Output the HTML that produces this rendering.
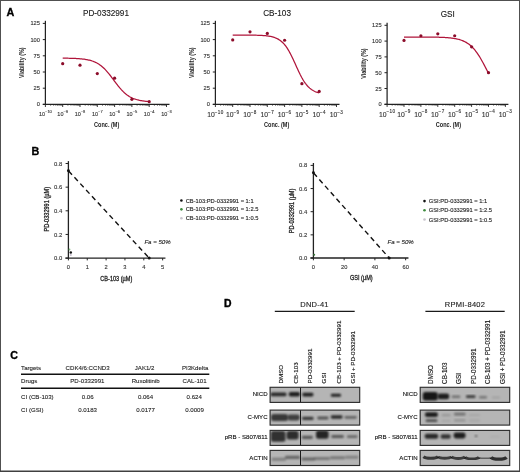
<!DOCTYPE html>
<html><head><meta charset="utf-8"><style>
html,body{margin:0;padding:0;background:#fff;}
svg{display:block;will-change:transform;}
text{font-family:"Liberation Sans", sans-serif;}
</style></head><body>
<svg width="520" height="472" viewBox="0 0 520 472">
<defs><filter id="bl" x="-50%" y="-50%" width="200%" height="200%"><feGaussianBlur stdDeviation="0.95"/></filter><filter id="bl2" x="-50%" y="-50%" width="200%" height="200%"><feGaussianBlur stdDeviation="0.5"/></filter></defs>
<rect x="0" y="0" width="520" height="472" fill="#fff"/>
<text x="106.00" y="15.80" font-size="8.2" text-anchor="middle" fill="#1a1a1a" font-weight="normal" font-style="normal" stroke="#1a1a1a" stroke-width="0.12" >PD-0332991</text>
<line x1="45.40" y1="20.80" x2="45.40" y2="104.90" stroke="#222" stroke-width="1.25" />
<line x1="42.80" y1="104.40" x2="45.40" y2="104.40" stroke="#222" stroke-width="1.0" />
<text x="39.90" y="106.40" font-size="5.7" text-anchor="end" fill="#333" font-weight="normal" font-style="normal" stroke="#333" stroke-width="0.12" >0</text>
<line x1="42.80" y1="88.20" x2="45.40" y2="88.20" stroke="#222" stroke-width="1.0" />
<text x="39.90" y="90.20" font-size="5.7" text-anchor="end" fill="#333" font-weight="normal" font-style="normal" stroke="#333" stroke-width="0.12" >25</text>
<line x1="42.80" y1="72.00" x2="45.40" y2="72.00" stroke="#222" stroke-width="1.0" />
<text x="39.90" y="74.00" font-size="5.7" text-anchor="end" fill="#333" font-weight="normal" font-style="normal" stroke="#333" stroke-width="0.12" >50</text>
<line x1="42.80" y1="55.80" x2="45.40" y2="55.80" stroke="#222" stroke-width="1.0" />
<text x="39.90" y="57.80" font-size="5.7" text-anchor="end" fill="#333" font-weight="normal" font-style="normal" stroke="#333" stroke-width="0.12" >75</text>
<line x1="42.80" y1="39.60" x2="45.40" y2="39.60" stroke="#222" stroke-width="1.0" />
<text x="39.90" y="41.60" font-size="5.7" text-anchor="end" fill="#333" font-weight="normal" font-style="normal" stroke="#333" stroke-width="0.12" >100</text>
<line x1="42.80" y1="23.40" x2="45.40" y2="23.40" stroke="#222" stroke-width="1.0" />
<text x="39.90" y="25.40" font-size="5.7" text-anchor="end" fill="#333" font-weight="normal" font-style="normal" stroke="#333" stroke-width="0.12" >125</text>
<line x1="42.80" y1="104.40" x2="169.50" y2="104.40" stroke="#222" stroke-width="1.25" />
<line x1="45.40" y1="104.40" x2="45.40" y2="107.00" stroke="#222" stroke-width="0.9" />
<line x1="50.61" y1="104.40" x2="50.61" y2="105.80" stroke="#222" stroke-width="0.6" />
<line x1="53.65" y1="104.40" x2="53.65" y2="105.80" stroke="#222" stroke-width="0.6" />
<line x1="55.82" y1="104.40" x2="55.82" y2="105.80" stroke="#222" stroke-width="0.6" />
<line x1="57.49" y1="104.40" x2="57.49" y2="105.80" stroke="#222" stroke-width="0.6" />
<line x1="58.86" y1="104.40" x2="58.86" y2="105.80" stroke="#222" stroke-width="0.6" />
<line x1="60.02" y1="104.40" x2="60.02" y2="105.80" stroke="#222" stroke-width="0.6" />
<line x1="61.02" y1="104.40" x2="61.02" y2="105.80" stroke="#222" stroke-width="0.6" />
<line x1="61.91" y1="104.40" x2="61.91" y2="105.80" stroke="#222" stroke-width="0.6" />
<text x="45.40" y="116.00" font-size="5.5" text-anchor="middle" fill="#333" stroke="#333" stroke-width="0.12">10<tspan font-size="4.0" dy="-2.6" letter-spacing="0">&#8722;10</tspan></text>
<line x1="62.70" y1="104.40" x2="62.70" y2="107.00" stroke="#222" stroke-width="0.9" />
<line x1="67.91" y1="104.40" x2="67.91" y2="105.80" stroke="#222" stroke-width="0.6" />
<line x1="70.95" y1="104.40" x2="70.95" y2="105.80" stroke="#222" stroke-width="0.6" />
<line x1="73.12" y1="104.40" x2="73.12" y2="105.80" stroke="#222" stroke-width="0.6" />
<line x1="74.79" y1="104.40" x2="74.79" y2="105.80" stroke="#222" stroke-width="0.6" />
<line x1="76.16" y1="104.40" x2="76.16" y2="105.80" stroke="#222" stroke-width="0.6" />
<line x1="77.32" y1="104.40" x2="77.32" y2="105.80" stroke="#222" stroke-width="0.6" />
<line x1="78.32" y1="104.40" x2="78.32" y2="105.80" stroke="#222" stroke-width="0.6" />
<line x1="79.21" y1="104.40" x2="79.21" y2="105.80" stroke="#222" stroke-width="0.6" />
<text x="62.70" y="116.00" font-size="5.5" text-anchor="middle" fill="#333" stroke="#333" stroke-width="0.12">10<tspan font-size="4.0" dy="-2.6" letter-spacing="0">&#8722;9</tspan></text>
<line x1="80.00" y1="104.40" x2="80.00" y2="107.00" stroke="#222" stroke-width="0.9" />
<line x1="85.21" y1="104.40" x2="85.21" y2="105.80" stroke="#222" stroke-width="0.6" />
<line x1="88.25" y1="104.40" x2="88.25" y2="105.80" stroke="#222" stroke-width="0.6" />
<line x1="90.42" y1="104.40" x2="90.42" y2="105.80" stroke="#222" stroke-width="0.6" />
<line x1="92.09" y1="104.40" x2="92.09" y2="105.80" stroke="#222" stroke-width="0.6" />
<line x1="93.46" y1="104.40" x2="93.46" y2="105.80" stroke="#222" stroke-width="0.6" />
<line x1="94.62" y1="104.40" x2="94.62" y2="105.80" stroke="#222" stroke-width="0.6" />
<line x1="95.62" y1="104.40" x2="95.62" y2="105.80" stroke="#222" stroke-width="0.6" />
<line x1="96.51" y1="104.40" x2="96.51" y2="105.80" stroke="#222" stroke-width="0.6" />
<text x="80.00" y="116.00" font-size="5.5" text-anchor="middle" fill="#333" stroke="#333" stroke-width="0.12">10<tspan font-size="4.0" dy="-2.6" letter-spacing="0">&#8722;8</tspan></text>
<line x1="97.30" y1="104.40" x2="97.30" y2="107.00" stroke="#222" stroke-width="0.9" />
<line x1="102.51" y1="104.40" x2="102.51" y2="105.80" stroke="#222" stroke-width="0.6" />
<line x1="105.55" y1="104.40" x2="105.55" y2="105.80" stroke="#222" stroke-width="0.6" />
<line x1="107.72" y1="104.40" x2="107.72" y2="105.80" stroke="#222" stroke-width="0.6" />
<line x1="109.39" y1="104.40" x2="109.39" y2="105.80" stroke="#222" stroke-width="0.6" />
<line x1="110.76" y1="104.40" x2="110.76" y2="105.80" stroke="#222" stroke-width="0.6" />
<line x1="111.92" y1="104.40" x2="111.92" y2="105.80" stroke="#222" stroke-width="0.6" />
<line x1="112.92" y1="104.40" x2="112.92" y2="105.80" stroke="#222" stroke-width="0.6" />
<line x1="113.81" y1="104.40" x2="113.81" y2="105.80" stroke="#222" stroke-width="0.6" />
<text x="97.30" y="116.00" font-size="5.5" text-anchor="middle" fill="#333" stroke="#333" stroke-width="0.12">10<tspan font-size="4.0" dy="-2.6" letter-spacing="0">&#8722;7</tspan></text>
<line x1="114.60" y1="104.40" x2="114.60" y2="107.00" stroke="#222" stroke-width="0.9" />
<line x1="119.81" y1="104.40" x2="119.81" y2="105.80" stroke="#222" stroke-width="0.6" />
<line x1="122.85" y1="104.40" x2="122.85" y2="105.80" stroke="#222" stroke-width="0.6" />
<line x1="125.02" y1="104.40" x2="125.02" y2="105.80" stroke="#222" stroke-width="0.6" />
<line x1="126.69" y1="104.40" x2="126.69" y2="105.80" stroke="#222" stroke-width="0.6" />
<line x1="128.06" y1="104.40" x2="128.06" y2="105.80" stroke="#222" stroke-width="0.6" />
<line x1="129.22" y1="104.40" x2="129.22" y2="105.80" stroke="#222" stroke-width="0.6" />
<line x1="130.22" y1="104.40" x2="130.22" y2="105.80" stroke="#222" stroke-width="0.6" />
<line x1="131.11" y1="104.40" x2="131.11" y2="105.80" stroke="#222" stroke-width="0.6" />
<text x="114.60" y="116.00" font-size="5.5" text-anchor="middle" fill="#333" stroke="#333" stroke-width="0.12">10<tspan font-size="4.0" dy="-2.6" letter-spacing="0">&#8722;6</tspan></text>
<line x1="131.90" y1="104.40" x2="131.90" y2="107.00" stroke="#222" stroke-width="0.9" />
<line x1="137.11" y1="104.40" x2="137.11" y2="105.80" stroke="#222" stroke-width="0.6" />
<line x1="140.15" y1="104.40" x2="140.15" y2="105.80" stroke="#222" stroke-width="0.6" />
<line x1="142.32" y1="104.40" x2="142.32" y2="105.80" stroke="#222" stroke-width="0.6" />
<line x1="143.99" y1="104.40" x2="143.99" y2="105.80" stroke="#222" stroke-width="0.6" />
<line x1="145.36" y1="104.40" x2="145.36" y2="105.80" stroke="#222" stroke-width="0.6" />
<line x1="146.52" y1="104.40" x2="146.52" y2="105.80" stroke="#222" stroke-width="0.6" />
<line x1="147.52" y1="104.40" x2="147.52" y2="105.80" stroke="#222" stroke-width="0.6" />
<line x1="148.41" y1="104.40" x2="148.41" y2="105.80" stroke="#222" stroke-width="0.6" />
<text x="131.90" y="116.00" font-size="5.5" text-anchor="middle" fill="#333" stroke="#333" stroke-width="0.12">10<tspan font-size="4.0" dy="-2.6" letter-spacing="0">&#8722;5</tspan></text>
<line x1="149.20" y1="104.40" x2="149.20" y2="107.00" stroke="#222" stroke-width="0.9" />
<line x1="154.41" y1="104.40" x2="154.41" y2="105.80" stroke="#222" stroke-width="0.6" />
<line x1="157.45" y1="104.40" x2="157.45" y2="105.80" stroke="#222" stroke-width="0.6" />
<line x1="159.62" y1="104.40" x2="159.62" y2="105.80" stroke="#222" stroke-width="0.6" />
<line x1="161.29" y1="104.40" x2="161.29" y2="105.80" stroke="#222" stroke-width="0.6" />
<line x1="162.66" y1="104.40" x2="162.66" y2="105.80" stroke="#222" stroke-width="0.6" />
<line x1="163.82" y1="104.40" x2="163.82" y2="105.80" stroke="#222" stroke-width="0.6" />
<line x1="164.82" y1="104.40" x2="164.82" y2="105.80" stroke="#222" stroke-width="0.6" />
<line x1="165.71" y1="104.40" x2="165.71" y2="105.80" stroke="#222" stroke-width="0.6" />
<text x="149.20" y="116.00" font-size="5.5" text-anchor="middle" fill="#333" stroke="#333" stroke-width="0.12">10<tspan font-size="4.0" dy="-2.6" letter-spacing="0">&#8722;4</tspan></text>
<line x1="166.50" y1="104.40" x2="166.50" y2="107.00" stroke="#222" stroke-width="0.9" />
<text x="166.50" y="116.00" font-size="5.5" text-anchor="middle" fill="#333" stroke="#333" stroke-width="0.12">10<tspan font-size="4.0" dy="-2.6" letter-spacing="0">&#8722;3</tspan></text>
<text x="0" y="0" font-size="6.6" text-anchor="middle" fill="#222" font-weight="bold" transform="translate(106.70,127.00) scale(0.84,1)">Conc. (M)</text>
<text x="0" y="0" font-size="6.6" text-anchor="middle" fill="#222" font-weight="bold" transform="translate(24.40,62.70) rotate(-90) scale(0.82,1)">Viability (%)</text>
<polyline points="62.70,58.15 63.57,58.16 64.43,58.17 65.30,58.18 66.16,58.20 67.03,58.21 67.89,58.23 68.76,58.25 69.62,58.27 70.49,58.29 71.35,58.31 72.22,58.34 73.08,58.37 73.95,58.40 74.81,58.44 75.68,58.48 76.54,58.53 77.41,58.58 78.27,58.63 79.14,58.70 80.00,58.76 80.87,58.84 81.73,58.93 82.60,59.02 83.46,59.12 84.33,59.24 85.19,59.37 86.06,59.51 86.92,59.66 87.79,59.83 88.65,60.02 89.52,60.23 90.38,60.46 91.25,60.71 92.11,60.98 92.98,61.28 93.84,61.61 94.71,61.97 95.57,62.37 96.44,62.80 97.30,63.26 98.17,63.77 99.03,64.32 99.90,64.90 100.76,65.54 101.63,66.22 102.49,66.95 103.36,67.72 104.22,68.54 105.09,69.41 105.95,70.33 106.82,71.29 107.68,72.29 108.55,73.33 109.41,74.40 110.28,75.50 111.14,76.63 112.01,77.78 112.87,78.93 113.74,80.10 114.60,81.27 115.47,82.42 116.33,83.57 117.20,84.70 118.06,85.80 118.93,86.87 119.79,87.91 120.66,88.91 121.52,89.87 122.39,90.79 123.25,91.66 124.12,92.48 124.98,93.25 125.85,93.98 126.71,94.66 127.58,95.30 128.44,95.88 129.31,96.43 130.17,96.94 131.04,97.40 131.90,97.83 132.77,98.23 133.63,98.59 134.50,98.92 135.36,99.22 136.23,99.49 137.09,99.74 137.96,99.97 138.82,100.18 139.69,100.37 140.55,100.54 141.42,100.69 142.28,100.83 143.15,100.96 144.01,101.08 144.88,101.18 145.74,101.27 146.60,101.36 147.47,101.44 148.33,101.50 149.20,101.57" fill="none" stroke="#b0143a" stroke-width="1.25"/>
<circle cx="62.70" cy="63.71" r="1.6" fill="#8c0c2a"/>
<circle cx="80.00" cy="65.20" r="1.6" fill="#8c0c2a"/>
<circle cx="97.30" cy="73.62" r="1.6" fill="#8c0c2a"/>
<circle cx="114.60" cy="78.16" r="1.6" fill="#8c0c2a"/>
<circle cx="131.90" cy="99.35" r="1.6" fill="#8c0c2a"/>
<circle cx="149.20" cy="101.68" r="1.6" fill="#8c0c2a"/>
<text x="277.10" y="15.80" font-size="8.2" text-anchor="middle" fill="#1a1a1a" font-weight="normal" font-style="normal" stroke="#1a1a1a" stroke-width="0.12" >CB-103</text>
<line x1="215.40" y1="20.80" x2="215.40" y2="104.90" stroke="#222" stroke-width="1.25" />
<line x1="212.80" y1="104.40" x2="215.40" y2="104.40" stroke="#222" stroke-width="1.0" />
<text x="209.90" y="106.40" font-size="5.7" text-anchor="end" fill="#333" font-weight="normal" font-style="normal" stroke="#333" stroke-width="0.12" >0</text>
<line x1="212.80" y1="88.20" x2="215.40" y2="88.20" stroke="#222" stroke-width="1.0" />
<text x="209.90" y="90.20" font-size="5.7" text-anchor="end" fill="#333" font-weight="normal" font-style="normal" stroke="#333" stroke-width="0.12" >25</text>
<line x1="212.80" y1="72.00" x2="215.40" y2="72.00" stroke="#222" stroke-width="1.0" />
<text x="209.90" y="74.00" font-size="5.7" text-anchor="end" fill="#333" font-weight="normal" font-style="normal" stroke="#333" stroke-width="0.12" >50</text>
<line x1="212.80" y1="55.80" x2="215.40" y2="55.80" stroke="#222" stroke-width="1.0" />
<text x="209.90" y="57.80" font-size="5.7" text-anchor="end" fill="#333" font-weight="normal" font-style="normal" stroke="#333" stroke-width="0.12" >75</text>
<line x1="212.80" y1="39.60" x2="215.40" y2="39.60" stroke="#222" stroke-width="1.0" />
<text x="209.90" y="41.60" font-size="5.7" text-anchor="end" fill="#333" font-weight="normal" font-style="normal" stroke="#333" stroke-width="0.12" >100</text>
<line x1="212.80" y1="23.40" x2="215.40" y2="23.40" stroke="#222" stroke-width="1.0" />
<text x="209.90" y="25.40" font-size="5.7" text-anchor="end" fill="#333" font-weight="normal" font-style="normal" stroke="#333" stroke-width="0.12" >125</text>
<line x1="212.80" y1="104.40" x2="339.50" y2="104.40" stroke="#222" stroke-width="1.25" />
<line x1="215.40" y1="104.40" x2="215.40" y2="107.00" stroke="#222" stroke-width="0.9" />
<line x1="220.61" y1="104.40" x2="220.61" y2="105.80" stroke="#222" stroke-width="0.6" />
<line x1="223.65" y1="104.40" x2="223.65" y2="105.80" stroke="#222" stroke-width="0.6" />
<line x1="225.82" y1="104.40" x2="225.82" y2="105.80" stroke="#222" stroke-width="0.6" />
<line x1="227.49" y1="104.40" x2="227.49" y2="105.80" stroke="#222" stroke-width="0.6" />
<line x1="228.86" y1="104.40" x2="228.86" y2="105.80" stroke="#222" stroke-width="0.6" />
<line x1="230.02" y1="104.40" x2="230.02" y2="105.80" stroke="#222" stroke-width="0.6" />
<line x1="231.02" y1="104.40" x2="231.02" y2="105.80" stroke="#222" stroke-width="0.6" />
<line x1="231.91" y1="104.40" x2="231.91" y2="105.80" stroke="#222" stroke-width="0.6" />
<text x="215.40" y="116.60" font-size="6.8" text-anchor="middle" fill="#333" stroke="#333" stroke-width="0.12">10<tspan font-size="4.6" dy="-3.1" letter-spacing="0.35">&#8722;10</tspan></text>
<line x1="232.70" y1="104.40" x2="232.70" y2="107.00" stroke="#222" stroke-width="0.9" />
<line x1="237.91" y1="104.40" x2="237.91" y2="105.80" stroke="#222" stroke-width="0.6" />
<line x1="240.95" y1="104.40" x2="240.95" y2="105.80" stroke="#222" stroke-width="0.6" />
<line x1="243.12" y1="104.40" x2="243.12" y2="105.80" stroke="#222" stroke-width="0.6" />
<line x1="244.79" y1="104.40" x2="244.79" y2="105.80" stroke="#222" stroke-width="0.6" />
<line x1="246.16" y1="104.40" x2="246.16" y2="105.80" stroke="#222" stroke-width="0.6" />
<line x1="247.32" y1="104.40" x2="247.32" y2="105.80" stroke="#222" stroke-width="0.6" />
<line x1="248.32" y1="104.40" x2="248.32" y2="105.80" stroke="#222" stroke-width="0.6" />
<line x1="249.21" y1="104.40" x2="249.21" y2="105.80" stroke="#222" stroke-width="0.6" />
<text x="232.70" y="116.60" font-size="6.8" text-anchor="middle" fill="#333" stroke="#333" stroke-width="0.12">10<tspan font-size="4.6" dy="-3.1" letter-spacing="0.35">&#8722;9</tspan></text>
<line x1="250.00" y1="104.40" x2="250.00" y2="107.00" stroke="#222" stroke-width="0.9" />
<line x1="255.21" y1="104.40" x2="255.21" y2="105.80" stroke="#222" stroke-width="0.6" />
<line x1="258.25" y1="104.40" x2="258.25" y2="105.80" stroke="#222" stroke-width="0.6" />
<line x1="260.42" y1="104.40" x2="260.42" y2="105.80" stroke="#222" stroke-width="0.6" />
<line x1="262.09" y1="104.40" x2="262.09" y2="105.80" stroke="#222" stroke-width="0.6" />
<line x1="263.46" y1="104.40" x2="263.46" y2="105.80" stroke="#222" stroke-width="0.6" />
<line x1="264.62" y1="104.40" x2="264.62" y2="105.80" stroke="#222" stroke-width="0.6" />
<line x1="265.62" y1="104.40" x2="265.62" y2="105.80" stroke="#222" stroke-width="0.6" />
<line x1="266.51" y1="104.40" x2="266.51" y2="105.80" stroke="#222" stroke-width="0.6" />
<text x="250.00" y="116.60" font-size="6.8" text-anchor="middle" fill="#333" stroke="#333" stroke-width="0.12">10<tspan font-size="4.6" dy="-3.1" letter-spacing="0.35">&#8722;8</tspan></text>
<line x1="267.30" y1="104.40" x2="267.30" y2="107.00" stroke="#222" stroke-width="0.9" />
<line x1="272.51" y1="104.40" x2="272.51" y2="105.80" stroke="#222" stroke-width="0.6" />
<line x1="275.55" y1="104.40" x2="275.55" y2="105.80" stroke="#222" stroke-width="0.6" />
<line x1="277.72" y1="104.40" x2="277.72" y2="105.80" stroke="#222" stroke-width="0.6" />
<line x1="279.39" y1="104.40" x2="279.39" y2="105.80" stroke="#222" stroke-width="0.6" />
<line x1="280.76" y1="104.40" x2="280.76" y2="105.80" stroke="#222" stroke-width="0.6" />
<line x1="281.92" y1="104.40" x2="281.92" y2="105.80" stroke="#222" stroke-width="0.6" />
<line x1="282.92" y1="104.40" x2="282.92" y2="105.80" stroke="#222" stroke-width="0.6" />
<line x1="283.81" y1="104.40" x2="283.81" y2="105.80" stroke="#222" stroke-width="0.6" />
<text x="267.30" y="116.60" font-size="6.8" text-anchor="middle" fill="#333" stroke="#333" stroke-width="0.12">10<tspan font-size="4.6" dy="-3.1" letter-spacing="0.35">&#8722;7</tspan></text>
<line x1="284.60" y1="104.40" x2="284.60" y2="107.00" stroke="#222" stroke-width="0.9" />
<line x1="289.81" y1="104.40" x2="289.81" y2="105.80" stroke="#222" stroke-width="0.6" />
<line x1="292.85" y1="104.40" x2="292.85" y2="105.80" stroke="#222" stroke-width="0.6" />
<line x1="295.02" y1="104.40" x2="295.02" y2="105.80" stroke="#222" stroke-width="0.6" />
<line x1="296.69" y1="104.40" x2="296.69" y2="105.80" stroke="#222" stroke-width="0.6" />
<line x1="298.06" y1="104.40" x2="298.06" y2="105.80" stroke="#222" stroke-width="0.6" />
<line x1="299.22" y1="104.40" x2="299.22" y2="105.80" stroke="#222" stroke-width="0.6" />
<line x1="300.22" y1="104.40" x2="300.22" y2="105.80" stroke="#222" stroke-width="0.6" />
<line x1="301.11" y1="104.40" x2="301.11" y2="105.80" stroke="#222" stroke-width="0.6" />
<text x="284.60" y="116.60" font-size="6.8" text-anchor="middle" fill="#333" stroke="#333" stroke-width="0.12">10<tspan font-size="4.6" dy="-3.1" letter-spacing="0.35">&#8722;6</tspan></text>
<line x1="301.90" y1="104.40" x2="301.90" y2="107.00" stroke="#222" stroke-width="0.9" />
<line x1="307.11" y1="104.40" x2="307.11" y2="105.80" stroke="#222" stroke-width="0.6" />
<line x1="310.15" y1="104.40" x2="310.15" y2="105.80" stroke="#222" stroke-width="0.6" />
<line x1="312.32" y1="104.40" x2="312.32" y2="105.80" stroke="#222" stroke-width="0.6" />
<line x1="313.99" y1="104.40" x2="313.99" y2="105.80" stroke="#222" stroke-width="0.6" />
<line x1="315.36" y1="104.40" x2="315.36" y2="105.80" stroke="#222" stroke-width="0.6" />
<line x1="316.52" y1="104.40" x2="316.52" y2="105.80" stroke="#222" stroke-width="0.6" />
<line x1="317.52" y1="104.40" x2="317.52" y2="105.80" stroke="#222" stroke-width="0.6" />
<line x1="318.41" y1="104.40" x2="318.41" y2="105.80" stroke="#222" stroke-width="0.6" />
<text x="301.90" y="116.60" font-size="6.8" text-anchor="middle" fill="#333" stroke="#333" stroke-width="0.12">10<tspan font-size="4.6" dy="-3.1" letter-spacing="0.35">&#8722;5</tspan></text>
<line x1="319.20" y1="104.40" x2="319.20" y2="107.00" stroke="#222" stroke-width="0.9" />
<line x1="324.41" y1="104.40" x2="324.41" y2="105.80" stroke="#222" stroke-width="0.6" />
<line x1="327.45" y1="104.40" x2="327.45" y2="105.80" stroke="#222" stroke-width="0.6" />
<line x1="329.62" y1="104.40" x2="329.62" y2="105.80" stroke="#222" stroke-width="0.6" />
<line x1="331.29" y1="104.40" x2="331.29" y2="105.80" stroke="#222" stroke-width="0.6" />
<line x1="332.66" y1="104.40" x2="332.66" y2="105.80" stroke="#222" stroke-width="0.6" />
<line x1="333.82" y1="104.40" x2="333.82" y2="105.80" stroke="#222" stroke-width="0.6" />
<line x1="334.82" y1="104.40" x2="334.82" y2="105.80" stroke="#222" stroke-width="0.6" />
<line x1="335.71" y1="104.40" x2="335.71" y2="105.80" stroke="#222" stroke-width="0.6" />
<text x="319.20" y="116.60" font-size="6.8" text-anchor="middle" fill="#333" stroke="#333" stroke-width="0.12">10<tspan font-size="4.6" dy="-3.1" letter-spacing="0.35">&#8722;4</tspan></text>
<line x1="336.50" y1="104.40" x2="336.50" y2="107.00" stroke="#222" stroke-width="0.9" />
<text x="336.50" y="116.60" font-size="6.8" text-anchor="middle" fill="#333" stroke="#333" stroke-width="0.12">10<tspan font-size="4.6" dy="-3.1" letter-spacing="0.35">&#8722;3</tspan></text>
<text x="0" y="0" font-size="6.6" text-anchor="middle" fill="#222" font-weight="bold" transform="translate(276.70,127.00) scale(0.84,1)">Conc. (M)</text>
<text x="0" y="0" font-size="6.6" text-anchor="middle" fill="#222" font-weight="bold" transform="translate(194.40,62.70) rotate(-90) scale(0.82,1)">Viability (%)</text>
<polyline points="232.70,35.07 233.57,35.07 234.43,35.07 235.30,35.07 236.16,35.07 237.03,35.07 237.89,35.07 238.76,35.08 239.62,35.08 240.49,35.08 241.35,35.08 242.22,35.08 243.08,35.09 243.95,35.09 244.81,35.09 245.68,35.10 246.54,35.10 247.41,35.11 248.27,35.11 249.14,35.12 250.00,35.13 250.87,35.14 251.73,35.15 252.60,35.16 253.46,35.17 254.33,35.19 255.19,35.21 256.06,35.23 256.92,35.25 257.79,35.27 258.65,35.30 259.52,35.33 260.38,35.37 261.25,35.41 262.11,35.46 262.98,35.52 263.84,35.58 264.71,35.65 265.57,35.73 266.44,35.82 267.30,35.92 268.17,36.04 269.03,36.17 269.90,36.32 270.76,36.48 271.63,36.67 272.49,36.89 273.36,37.13 274.22,37.40 275.09,37.71 275.95,38.06 276.82,38.45 277.68,38.88 278.55,39.37 279.41,39.91 280.28,40.52 281.14,41.19 282.01,41.94 282.87,42.76 283.74,43.67 284.60,44.66 285.47,45.75 286.33,46.93 287.20,48.20 288.06,49.57 288.93,51.03 289.79,52.58 290.66,54.22 291.52,55.93 292.39,57.71 293.25,59.55 294.12,61.43 294.98,63.34 295.85,65.26 296.71,67.17 297.58,69.07 298.44,70.94 299.31,72.75 300.17,74.51 301.04,76.19 301.90,77.79 302.77,79.31 303.63,80.73 304.50,82.06 305.36,83.30 306.23,84.44 307.09,85.49 307.96,86.45 308.82,87.32 309.69,88.11 310.55,88.83 311.42,89.47 312.28,90.06 313.14,90.58 314.01,91.04 314.88,91.46 315.74,91.83 316.61,92.16 317.47,92.45 318.33,92.71 319.20,92.94" fill="none" stroke="#b0143a" stroke-width="1.25"/>
<circle cx="232.70" cy="39.92" r="1.6" fill="#8c0c2a"/>
<circle cx="250.00" cy="31.82" r="1.6" fill="#8c0c2a"/>
<circle cx="267.30" cy="33.44" r="1.6" fill="#8c0c2a"/>
<circle cx="284.60" cy="40.25" r="1.6" fill="#8c0c2a"/>
<circle cx="301.90" cy="83.66" r="1.6" fill="#8c0c2a"/>
<circle cx="319.20" cy="91.44" r="1.6" fill="#8c0c2a"/>
<text x="447.80" y="16.50" font-size="8.2" text-anchor="middle" fill="#1a1a1a" font-weight="normal" font-style="normal" stroke="#1a1a1a" stroke-width="0.12" >GSI</text>
<line x1="387.10" y1="22.70" x2="387.10" y2="104.80" stroke="#222" stroke-width="1.25" />
<line x1="384.50" y1="104.30" x2="387.10" y2="104.30" stroke="#222" stroke-width="1.0" />
<text x="381.60" y="106.30" font-size="5.7" text-anchor="end" fill="#333" font-weight="normal" font-style="normal" stroke="#333" stroke-width="0.12" >0</text>
<line x1="384.50" y1="88.50" x2="387.10" y2="88.50" stroke="#222" stroke-width="1.0" />
<text x="381.60" y="90.50" font-size="5.7" text-anchor="end" fill="#333" font-weight="normal" font-style="normal" stroke="#333" stroke-width="0.12" >25</text>
<line x1="384.50" y1="72.70" x2="387.10" y2="72.70" stroke="#222" stroke-width="1.0" />
<text x="381.60" y="74.70" font-size="5.7" text-anchor="end" fill="#333" font-weight="normal" font-style="normal" stroke="#333" stroke-width="0.12" >50</text>
<line x1="384.50" y1="56.90" x2="387.10" y2="56.90" stroke="#222" stroke-width="1.0" />
<text x="381.60" y="58.90" font-size="5.7" text-anchor="end" fill="#333" font-weight="normal" font-style="normal" stroke="#333" stroke-width="0.12" >75</text>
<line x1="384.50" y1="41.10" x2="387.10" y2="41.10" stroke="#222" stroke-width="1.0" />
<text x="381.60" y="43.10" font-size="5.7" text-anchor="end" fill="#333" font-weight="normal" font-style="normal" stroke="#333" stroke-width="0.12" >100</text>
<line x1="384.50" y1="25.30" x2="387.10" y2="25.30" stroke="#222" stroke-width="1.0" />
<text x="381.60" y="27.30" font-size="5.7" text-anchor="end" fill="#333" font-weight="normal" font-style="normal" stroke="#333" stroke-width="0.12" >125</text>
<line x1="384.50" y1="104.30" x2="508.40" y2="104.30" stroke="#222" stroke-width="1.25" />
<line x1="387.10" y1="104.30" x2="387.10" y2="106.90" stroke="#222" stroke-width="0.9" />
<line x1="392.19" y1="104.30" x2="392.19" y2="105.70" stroke="#222" stroke-width="0.6" />
<line x1="395.16" y1="104.30" x2="395.16" y2="105.70" stroke="#222" stroke-width="0.6" />
<line x1="397.27" y1="104.30" x2="397.27" y2="105.70" stroke="#222" stroke-width="0.6" />
<line x1="398.91" y1="104.30" x2="398.91" y2="105.70" stroke="#222" stroke-width="0.6" />
<line x1="400.25" y1="104.30" x2="400.25" y2="105.70" stroke="#222" stroke-width="0.6" />
<line x1="401.38" y1="104.30" x2="401.38" y2="105.70" stroke="#222" stroke-width="0.6" />
<line x1="402.36" y1="104.30" x2="402.36" y2="105.70" stroke="#222" stroke-width="0.6" />
<line x1="403.23" y1="104.30" x2="403.23" y2="105.70" stroke="#222" stroke-width="0.6" />
<text x="387.10" y="116.50" font-size="6.8" text-anchor="middle" fill="#333" stroke="#333" stroke-width="0.12">10<tspan font-size="4.6" dy="-3.1" letter-spacing="0.35">&#8722;10</tspan></text>
<line x1="404.00" y1="104.30" x2="404.00" y2="106.90" stroke="#222" stroke-width="0.9" />
<line x1="409.09" y1="104.30" x2="409.09" y2="105.70" stroke="#222" stroke-width="0.6" />
<line x1="412.06" y1="104.30" x2="412.06" y2="105.70" stroke="#222" stroke-width="0.6" />
<line x1="414.17" y1="104.30" x2="414.17" y2="105.70" stroke="#222" stroke-width="0.6" />
<line x1="415.81" y1="104.30" x2="415.81" y2="105.70" stroke="#222" stroke-width="0.6" />
<line x1="417.15" y1="104.30" x2="417.15" y2="105.70" stroke="#222" stroke-width="0.6" />
<line x1="418.28" y1="104.30" x2="418.28" y2="105.70" stroke="#222" stroke-width="0.6" />
<line x1="419.26" y1="104.30" x2="419.26" y2="105.70" stroke="#222" stroke-width="0.6" />
<line x1="420.13" y1="104.30" x2="420.13" y2="105.70" stroke="#222" stroke-width="0.6" />
<text x="404.00" y="116.50" font-size="6.8" text-anchor="middle" fill="#333" stroke="#333" stroke-width="0.12">10<tspan font-size="4.6" dy="-3.1" letter-spacing="0.35">&#8722;9</tspan></text>
<line x1="420.90" y1="104.30" x2="420.90" y2="106.90" stroke="#222" stroke-width="0.9" />
<line x1="425.99" y1="104.30" x2="425.99" y2="105.70" stroke="#222" stroke-width="0.6" />
<line x1="428.96" y1="104.30" x2="428.96" y2="105.70" stroke="#222" stroke-width="0.6" />
<line x1="431.07" y1="104.30" x2="431.07" y2="105.70" stroke="#222" stroke-width="0.6" />
<line x1="432.71" y1="104.30" x2="432.71" y2="105.70" stroke="#222" stroke-width="0.6" />
<line x1="434.05" y1="104.30" x2="434.05" y2="105.70" stroke="#222" stroke-width="0.6" />
<line x1="435.18" y1="104.30" x2="435.18" y2="105.70" stroke="#222" stroke-width="0.6" />
<line x1="436.16" y1="104.30" x2="436.16" y2="105.70" stroke="#222" stroke-width="0.6" />
<line x1="437.03" y1="104.30" x2="437.03" y2="105.70" stroke="#222" stroke-width="0.6" />
<text x="420.90" y="116.50" font-size="6.8" text-anchor="middle" fill="#333" stroke="#333" stroke-width="0.12">10<tspan font-size="4.6" dy="-3.1" letter-spacing="0.35">&#8722;8</tspan></text>
<line x1="437.80" y1="104.30" x2="437.80" y2="106.90" stroke="#222" stroke-width="0.9" />
<line x1="442.89" y1="104.30" x2="442.89" y2="105.70" stroke="#222" stroke-width="0.6" />
<line x1="445.86" y1="104.30" x2="445.86" y2="105.70" stroke="#222" stroke-width="0.6" />
<line x1="447.97" y1="104.30" x2="447.97" y2="105.70" stroke="#222" stroke-width="0.6" />
<line x1="449.61" y1="104.30" x2="449.61" y2="105.70" stroke="#222" stroke-width="0.6" />
<line x1="450.95" y1="104.30" x2="450.95" y2="105.70" stroke="#222" stroke-width="0.6" />
<line x1="452.08" y1="104.30" x2="452.08" y2="105.70" stroke="#222" stroke-width="0.6" />
<line x1="453.06" y1="104.30" x2="453.06" y2="105.70" stroke="#222" stroke-width="0.6" />
<line x1="453.93" y1="104.30" x2="453.93" y2="105.70" stroke="#222" stroke-width="0.6" />
<text x="437.80" y="116.50" font-size="6.8" text-anchor="middle" fill="#333" stroke="#333" stroke-width="0.12">10<tspan font-size="4.6" dy="-3.1" letter-spacing="0.35">&#8722;7</tspan></text>
<line x1="454.70" y1="104.30" x2="454.70" y2="106.90" stroke="#222" stroke-width="0.9" />
<line x1="459.79" y1="104.30" x2="459.79" y2="105.70" stroke="#222" stroke-width="0.6" />
<line x1="462.76" y1="104.30" x2="462.76" y2="105.70" stroke="#222" stroke-width="0.6" />
<line x1="464.87" y1="104.30" x2="464.87" y2="105.70" stroke="#222" stroke-width="0.6" />
<line x1="466.51" y1="104.30" x2="466.51" y2="105.70" stroke="#222" stroke-width="0.6" />
<line x1="467.85" y1="104.30" x2="467.85" y2="105.70" stroke="#222" stroke-width="0.6" />
<line x1="468.98" y1="104.30" x2="468.98" y2="105.70" stroke="#222" stroke-width="0.6" />
<line x1="469.96" y1="104.30" x2="469.96" y2="105.70" stroke="#222" stroke-width="0.6" />
<line x1="470.83" y1="104.30" x2="470.83" y2="105.70" stroke="#222" stroke-width="0.6" />
<text x="454.70" y="116.50" font-size="6.8" text-anchor="middle" fill="#333" stroke="#333" stroke-width="0.12">10<tspan font-size="4.6" dy="-3.1" letter-spacing="0.35">&#8722;6</tspan></text>
<line x1="471.60" y1="104.30" x2="471.60" y2="106.90" stroke="#222" stroke-width="0.9" />
<line x1="476.69" y1="104.30" x2="476.69" y2="105.70" stroke="#222" stroke-width="0.6" />
<line x1="479.66" y1="104.30" x2="479.66" y2="105.70" stroke="#222" stroke-width="0.6" />
<line x1="481.77" y1="104.30" x2="481.77" y2="105.70" stroke="#222" stroke-width="0.6" />
<line x1="483.41" y1="104.30" x2="483.41" y2="105.70" stroke="#222" stroke-width="0.6" />
<line x1="484.75" y1="104.30" x2="484.75" y2="105.70" stroke="#222" stroke-width="0.6" />
<line x1="485.88" y1="104.30" x2="485.88" y2="105.70" stroke="#222" stroke-width="0.6" />
<line x1="486.86" y1="104.30" x2="486.86" y2="105.70" stroke="#222" stroke-width="0.6" />
<line x1="487.73" y1="104.30" x2="487.73" y2="105.70" stroke="#222" stroke-width="0.6" />
<text x="471.60" y="116.50" font-size="6.8" text-anchor="middle" fill="#333" stroke="#333" stroke-width="0.12">10<tspan font-size="4.6" dy="-3.1" letter-spacing="0.35">&#8722;5</tspan></text>
<line x1="488.50" y1="104.30" x2="488.50" y2="106.90" stroke="#222" stroke-width="0.9" />
<line x1="493.59" y1="104.30" x2="493.59" y2="105.70" stroke="#222" stroke-width="0.6" />
<line x1="496.56" y1="104.30" x2="496.56" y2="105.70" stroke="#222" stroke-width="0.6" />
<line x1="498.67" y1="104.30" x2="498.67" y2="105.70" stroke="#222" stroke-width="0.6" />
<line x1="500.31" y1="104.30" x2="500.31" y2="105.70" stroke="#222" stroke-width="0.6" />
<line x1="501.65" y1="104.30" x2="501.65" y2="105.70" stroke="#222" stroke-width="0.6" />
<line x1="502.78" y1="104.30" x2="502.78" y2="105.70" stroke="#222" stroke-width="0.6" />
<line x1="503.76" y1="104.30" x2="503.76" y2="105.70" stroke="#222" stroke-width="0.6" />
<line x1="504.63" y1="104.30" x2="504.63" y2="105.70" stroke="#222" stroke-width="0.6" />
<text x="488.50" y="116.50" font-size="6.8" text-anchor="middle" fill="#333" stroke="#333" stroke-width="0.12">10<tspan font-size="4.6" dy="-3.1" letter-spacing="0.35">&#8722;4</tspan></text>
<line x1="505.40" y1="104.30" x2="505.40" y2="106.90" stroke="#222" stroke-width="0.9" />
<text x="505.40" y="116.50" font-size="6.8" text-anchor="middle" fill="#333" stroke="#333" stroke-width="0.12">10<tspan font-size="4.6" dy="-3.1" letter-spacing="0.35">&#8722;3</tspan></text>
<text x="0" y="0" font-size="6.6" text-anchor="middle" fill="#222" font-weight="bold" transform="translate(448.40,126.90) scale(0.84,1)">Conc. (M)</text>
<text x="0" y="0" font-size="6.6" text-anchor="middle" fill="#222" font-weight="bold" transform="translate(366.10,63.60) rotate(-90) scale(0.82,1)">Viability (%)</text>
<polyline points="404.00,37.00 404.85,37.00 405.69,37.00 406.54,37.00 407.38,37.00 408.23,37.00 409.07,37.00 409.92,37.00 410.76,37.00 411.61,37.00 412.45,37.00 413.30,37.00 414.14,37.01 414.99,37.01 415.83,37.01 416.68,37.01 417.52,37.01 418.37,37.02 419.21,37.02 420.06,37.02 420.90,37.02 421.75,37.03 422.59,37.03 423.44,37.03 424.28,37.04 425.13,37.04 425.97,37.05 426.82,37.05 427.66,37.06 428.51,37.07 429.35,37.08 430.20,37.08 431.04,37.09 431.89,37.10 432.73,37.12 433.58,37.13 434.42,37.14 435.27,37.16 436.11,37.17 436.96,37.19 437.80,37.21 438.65,37.24 439.49,37.26 440.34,37.29 441.18,37.32 442.03,37.35 442.87,37.39 443.72,37.43 444.56,37.47 445.41,37.52 446.25,37.58 447.10,37.64 447.94,37.70 448.79,37.77 449.63,37.85 450.48,37.94 451.32,38.04 452.17,38.14 453.01,38.26 453.86,38.39 454.70,38.53 455.55,38.68 456.39,38.85 457.24,39.03 458.08,39.24 458.93,39.46 459.77,39.70 460.62,39.97 461.46,40.26 462.31,40.58 463.15,40.93 464.00,41.31 464.84,41.72 465.69,42.17 466.53,42.65 467.38,43.18 468.22,43.75 469.07,44.37 469.91,45.04 470.76,45.76 471.60,46.53 472.45,47.36 473.29,48.25 474.14,49.20 474.98,50.21 475.83,51.28 476.67,52.41 477.52,53.61 478.36,54.86 479.21,56.17 480.05,57.54 480.90,58.97 481.74,60.44 482.59,61.96 483.43,63.51 484.28,65.10 485.12,66.71 485.97,68.34 486.81,69.99 487.65,71.63 488.50,73.28" fill="none" stroke="#b0143a" stroke-width="1.25"/>
<circle cx="404.00" cy="40.47" r="1.6" fill="#8c0c2a"/>
<circle cx="420.90" cy="35.73" r="1.6" fill="#8c0c2a"/>
<circle cx="437.80" cy="33.83" r="1.6" fill="#8c0c2a"/>
<circle cx="454.70" cy="35.73" r="1.6" fill="#8c0c2a"/>
<circle cx="471.60" cy="46.79" r="1.6" fill="#8c0c2a"/>
<circle cx="488.50" cy="72.70" r="1.6" fill="#8c0c2a"/>
<text x="6.40" y="15.80" font-size="10.8" text-anchor="start" fill="#000" font-weight="bold" font-style="normal" stroke="#000" stroke-width="0.3" >A</text>
<text x="31.60" y="154.50" font-size="10.8" text-anchor="start" fill="#000" font-weight="bold" font-style="normal" stroke="#000" stroke-width="0.3" >B</text>
<text x="10.20" y="358.70" font-size="10.6" text-anchor="start" fill="#000" font-weight="bold" font-style="normal" stroke="#000" stroke-width="0.35" >C</text>
<text x="224.00" y="306.50" font-size="10.4" text-anchor="start" fill="#000" font-weight="bold" font-style="normal" stroke="#000" stroke-width="0.4" >D</text>
<line x1="68.40" y1="161.10" x2="68.40" y2="258.60" stroke="#222" stroke-width="1.3" />
<line x1="65.60" y1="258.10" x2="68.40" y2="258.10" stroke="#222" stroke-width="1.0" />
<text x="62.20" y="260.15" font-size="5.9" text-anchor="end" fill="#333" font-weight="normal" font-style="normal" stroke="#333" stroke-width="0.12" >0.0</text>
<line x1="65.60" y1="234.45" x2="68.40" y2="234.45" stroke="#222" stroke-width="1.0" />
<text x="62.20" y="236.50" font-size="5.9" text-anchor="end" fill="#333" font-weight="normal" font-style="normal" stroke="#333" stroke-width="0.12" >0.2</text>
<line x1="65.60" y1="210.80" x2="68.40" y2="210.80" stroke="#222" stroke-width="1.0" />
<text x="62.20" y="212.85" font-size="5.9" text-anchor="end" fill="#333" font-weight="normal" font-style="normal" stroke="#333" stroke-width="0.12" >0.4</text>
<line x1="65.60" y1="187.15" x2="68.40" y2="187.15" stroke="#222" stroke-width="1.0" />
<text x="62.20" y="189.20" font-size="5.9" text-anchor="end" fill="#333" font-weight="normal" font-style="normal" stroke="#333" stroke-width="0.12" >0.6</text>
<line x1="65.60" y1="163.50" x2="68.40" y2="163.50" stroke="#222" stroke-width="1.0" />
<text x="62.20" y="165.55" font-size="5.9" text-anchor="end" fill="#333" font-weight="normal" font-style="normal" stroke="#333" stroke-width="0.12" >0.8</text>
<line x1="65.40" y1="258.10" x2="165.45" y2="258.10" stroke="#222" stroke-width="1.3" />
<line x1="68.40" y1="258.10" x2="68.40" y2="260.40" stroke="#222" stroke-width="1" />
<text x="68.40" y="269.40" font-size="5.7" text-anchor="middle" fill="#333" font-weight="normal" font-style="normal" stroke="#333" stroke-width="0.12" >0</text>
<line x1="87.25" y1="258.10" x2="87.25" y2="260.40" stroke="#222" stroke-width="1" />
<text x="87.25" y="269.40" font-size="5.7" text-anchor="middle" fill="#333" font-weight="normal" font-style="normal" stroke="#333" stroke-width="0.12" >1</text>
<line x1="106.10" y1="258.10" x2="106.10" y2="260.40" stroke="#222" stroke-width="1" />
<text x="106.10" y="269.40" font-size="5.7" text-anchor="middle" fill="#333" font-weight="normal" font-style="normal" stroke="#333" stroke-width="0.12" >2</text>
<line x1="124.95" y1="258.10" x2="124.95" y2="260.40" stroke="#222" stroke-width="1" />
<text x="124.95" y="269.40" font-size="5.7" text-anchor="middle" fill="#333" font-weight="normal" font-style="normal" stroke="#333" stroke-width="0.12" >3</text>
<line x1="143.80" y1="258.10" x2="143.80" y2="260.40" stroke="#222" stroke-width="1" />
<text x="143.80" y="269.40" font-size="5.7" text-anchor="middle" fill="#333" font-weight="normal" font-style="normal" stroke="#333" stroke-width="0.12" >4</text>
<line x1="162.65" y1="258.10" x2="162.65" y2="260.40" stroke="#222" stroke-width="1" />
<text x="162.65" y="269.40" font-size="5.7" text-anchor="middle" fill="#333" font-weight="normal" font-style="normal" stroke="#333" stroke-width="0.12" >5</text>
<text x="0" y="0" font-size="6.8" text-anchor="middle" fill="#1a1a1a" stroke="#1a1a1a" stroke-width="0.28" transform="translate(116.30,280.50) scale(0.82,1)">CB-103 (µM)</text>
<text x="0" y="0" font-size="6.6" text-anchor="middle" fill="#1a1a1a" stroke="#1a1a1a" stroke-width="0.28" transform="translate(48.90,209.30) rotate(-90) scale(0.85,1)">PD-0332991 (µM)</text>
<line x1="68.40" y1="170.80" x2="149.20" y2="258.10" stroke="#111" stroke-width="1.4" stroke-dasharray="5,3.6" stroke-dashoffset="-0.3"/>
<circle cx="68.40" cy="170.80" r="1.45" fill="#111"/>
<circle cx="149.20" cy="258.10" r="1.5" fill="#111"/>
<text x="144.40" y="243.60" font-size="6.1" fill="#222" stroke="#222" stroke-width="0.1" font-style="italic">Fa = 50%</text>
<circle cx="181.40" cy="200.50" r="1.3" fill="#111"/>
<text x="185.70" y="202.50" font-size="5.75" text-anchor="start" fill="#2a2a2a" font-weight="normal" font-style="normal" stroke="#2a2a2a" stroke-width="0.15" >CB-103:PD-0332991 = 1:1</text>
<circle cx="181.40" cy="209.35" r="1.3" fill="#3d8a3d"/>
<text x="185.70" y="211.35" font-size="5.75" text-anchor="start" fill="#2a2a2a" font-weight="normal" font-style="normal" stroke="#2a2a2a" stroke-width="0.15" >CB-103:PD-0332991 = 1:2.5</text>
<circle cx="181.40" cy="218.20" r="1.3" fill="#c8c4cc"/>
<text x="185.70" y="220.20" font-size="5.75" text-anchor="start" fill="#2a2a2a" font-weight="normal" font-style="normal" stroke="#2a2a2a" stroke-width="0.15" >CB-103:PD-0332991 = 1:0.5</text>
<line x1="313.40" y1="163.00" x2="313.40" y2="258.50" stroke="#222" stroke-width="1.3" />
<line x1="310.60" y1="258.00" x2="313.40" y2="258.00" stroke="#222" stroke-width="1.0" />
<text x="307.20" y="260.05" font-size="5.9" text-anchor="end" fill="#333" font-weight="normal" font-style="normal" stroke="#333" stroke-width="0.12" >0.0</text>
<line x1="310.60" y1="234.85" x2="313.40" y2="234.85" stroke="#222" stroke-width="1.0" />
<text x="307.20" y="236.90" font-size="5.9" text-anchor="end" fill="#333" font-weight="normal" font-style="normal" stroke="#333" stroke-width="0.12" >0.2</text>
<line x1="310.60" y1="211.70" x2="313.40" y2="211.70" stroke="#222" stroke-width="1.0" />
<text x="307.20" y="213.75" font-size="5.9" text-anchor="end" fill="#333" font-weight="normal" font-style="normal" stroke="#333" stroke-width="0.12" >0.4</text>
<line x1="310.60" y1="188.55" x2="313.40" y2="188.55" stroke="#222" stroke-width="1.0" />
<text x="307.20" y="190.60" font-size="5.9" text-anchor="end" fill="#333" font-weight="normal" font-style="normal" stroke="#333" stroke-width="0.12" >0.6</text>
<line x1="310.60" y1="165.40" x2="313.40" y2="165.40" stroke="#222" stroke-width="1.0" />
<text x="307.20" y="167.45" font-size="5.9" text-anchor="end" fill="#333" font-weight="normal" font-style="normal" stroke="#333" stroke-width="0.12" >0.8</text>
<line x1="310.40" y1="258.00" x2="408.45" y2="258.00" stroke="#222" stroke-width="1.3" />
<line x1="313.40" y1="258.00" x2="313.40" y2="260.30" stroke="#222" stroke-width="1" />
<text x="313.40" y="269.30" font-size="5.7" text-anchor="middle" fill="#333" font-weight="normal" font-style="normal" stroke="#333" stroke-width="0.12" >0</text>
<line x1="344.15" y1="258.00" x2="344.15" y2="260.30" stroke="#222" stroke-width="1" />
<text x="344.15" y="269.30" font-size="5.7" text-anchor="middle" fill="#333" font-weight="normal" font-style="normal" stroke="#333" stroke-width="0.12" >20</text>
<line x1="374.90" y1="258.00" x2="374.90" y2="260.30" stroke="#222" stroke-width="1" />
<text x="374.90" y="269.30" font-size="5.7" text-anchor="middle" fill="#333" font-weight="normal" font-style="normal" stroke="#333" stroke-width="0.12" >40</text>
<line x1="405.65" y1="258.00" x2="405.65" y2="260.30" stroke="#222" stroke-width="1" />
<text x="405.65" y="269.30" font-size="5.7" text-anchor="middle" fill="#333" font-weight="normal" font-style="normal" stroke="#333" stroke-width="0.12" >60</text>
<text x="0" y="0" font-size="6.8" text-anchor="middle" fill="#1a1a1a" stroke="#1a1a1a" stroke-width="0.28" transform="translate(361.30,280.40) scale(0.82,1)">GSI (µM)</text>
<text x="0" y="0" font-size="6.6" text-anchor="middle" fill="#1a1a1a" stroke="#1a1a1a" stroke-width="0.28" transform="translate(294.00,210.90) rotate(-90) scale(0.85,1)">PD-0332991 (µM)</text>
<line x1="313.40" y1="172.80" x2="389.20" y2="258.00" stroke="#111" stroke-width="1.4" stroke-dasharray="5,3.6" stroke-dashoffset="-0.3"/>
<circle cx="313.40" cy="172.80" r="1.45" fill="#111"/>
<circle cx="389.20" cy="258.00" r="1.5" fill="#111"/>
<text x="387.50" y="243.50" font-size="6.1" fill="#222" stroke="#222" stroke-width="0.1" font-style="italic">Fa = 50%</text>
<circle cx="424.50" cy="201.10" r="1.3" fill="#111"/>
<text x="428.80" y="203.10" font-size="5.75" text-anchor="start" fill="#2a2a2a" font-weight="normal" font-style="normal" stroke="#2a2a2a" stroke-width="0.15" >GSI:PD-0332991 = 1:1</text>
<circle cx="424.50" cy="210.30" r="1.3" fill="#3d8a3d"/>
<text x="428.80" y="212.30" font-size="5.75" text-anchor="start" fill="#2a2a2a" font-weight="normal" font-style="normal" stroke="#2a2a2a" stroke-width="0.15" >GSI:PD-0332991 = 1:2.5</text>
<circle cx="424.50" cy="219.50" r="1.3" fill="#c8c4cc"/>
<text x="428.80" y="221.50" font-size="5.75" text-anchor="start" fill="#2a2a2a" font-weight="normal" font-style="normal" stroke="#2a2a2a" stroke-width="0.15" >GSI:PD-0332991 = 1:0.5</text>
<circle cx="69.4" cy="249.6" r="1.0" fill="#4a9a4a" fill-opacity="0.7"/>
<circle cx="70.8" cy="255.0" r="1.0" fill="#c8c0d0"/>
<circle cx="70.8" cy="252.4" r="1.25" fill="#111"/>
<circle cx="314.2" cy="254.8" r="1.0" fill="#3d7a3d"/>
<text x="21.10" y="369.90" font-size="6.1" text-anchor="start" fill="#222" font-weight="normal" font-style="normal" stroke="#222" stroke-width="0.1" >Targets</text>
<text x="87.60" y="369.90" font-size="6.1" text-anchor="middle" fill="#222" font-weight="normal" font-style="normal" stroke="#222" stroke-width="0.1" >CDK4/6:CCND3</text>
<text x="144.60" y="369.90" font-size="6.1" text-anchor="middle" fill="#222" font-weight="normal" font-style="normal" stroke="#222" stroke-width="0.1" >JAK1/2</text>
<text x="195.10" y="369.90" font-size="6.1" text-anchor="middle" fill="#222" font-weight="normal" font-style="normal" stroke="#222" stroke-width="0.1" >PI3Kdelta</text>
<line x1="21.00" y1="374.30" x2="209.30" y2="374.30" stroke="#111" stroke-width="1.45" />
<text x="21.10" y="382.70" font-size="6.1" text-anchor="start" fill="#222" font-weight="normal" font-style="normal" stroke="#222" stroke-width="0.1" >Drugs</text>
<text x="87.40" y="382.70" font-size="6.1" text-anchor="middle" fill="#222" font-weight="normal" font-style="normal" stroke="#222" stroke-width="0.1" >PD-0332991</text>
<text x="145.70" y="382.70" font-size="6.1" text-anchor="middle" fill="#222" font-weight="normal" font-style="normal" stroke="#222" stroke-width="0.1" >Ruxolitinib</text>
<text x="194.60" y="382.70" font-size="6.1" text-anchor="middle" fill="#222" font-weight="normal" font-style="normal" stroke="#222" stroke-width="0.1" >CAL-101</text>
<line x1="21.00" y1="388.20" x2="209.30" y2="388.20" stroke="#111" stroke-width="1.45" />
<text x="21.10" y="399.40" font-size="6.1" text-anchor="start" fill="#222" font-weight="normal" font-style="normal" stroke="#222" stroke-width="0.1" >CI (CB-103)</text>
<text x="87.70" y="399.40" font-size="6.1" text-anchor="middle" fill="#222" font-weight="normal" font-style="normal" stroke="#222" stroke-width="0.1" >0.06</text>
<text x="145.50" y="399.40" font-size="6.1" text-anchor="middle" fill="#222" font-weight="normal" font-style="normal" stroke="#222" stroke-width="0.1" >0.064</text>
<text x="194.20" y="399.40" font-size="6.1" text-anchor="middle" fill="#222" font-weight="normal" font-style="normal" stroke="#222" stroke-width="0.1" >0.624</text>
<text x="21.10" y="411.80" font-size="6.1" text-anchor="start" fill="#222" font-weight="normal" font-style="normal" stroke="#222" stroke-width="0.1" >CI (GSI)</text>
<text x="87.60" y="411.80" font-size="6.1" text-anchor="middle" fill="#222" font-weight="normal" font-style="normal" stroke="#222" stroke-width="0.1" >0.0183</text>
<text x="145.50" y="411.80" font-size="6.1" text-anchor="middle" fill="#222" font-weight="normal" font-style="normal" stroke="#222" stroke-width="0.1" >0.0177</text>
<text x="194.50" y="411.80" font-size="6.1" text-anchor="middle" fill="#222" font-weight="normal" font-style="normal" stroke="#222" stroke-width="0.1" >0.0009</text>
<text x="314.50" y="306.50" font-size="7.5" text-anchor="middle" fill="#1a1a1a" font-weight="normal" font-style="normal" stroke="#1a1a1a" stroke-width="0.12" letter-spacing="0.2">DND-41</text>
<line x1="274.80" y1="311.30" x2="354.70" y2="311.30" stroke="#1a1a1a" stroke-width="1.2" />
<text x="465.00" y="306.50" font-size="7.5" text-anchor="middle" fill="#1a1a1a" font-weight="normal" font-style="normal" stroke="#1a1a1a" stroke-width="0.12" letter-spacing="0.3">RPMI-8402</text>
<line x1="425.40" y1="311.30" x2="504.70" y2="311.30" stroke="#1a1a1a" stroke-width="1.2" />
<text x="0" y="0" font-size="6.2" fill="#1a1a1a" stroke="#1a1a1a" stroke-width="0.15" transform="translate(283.20,383.4) rotate(-90)">DMSO</text>
<text x="0" y="0" font-size="6.2" fill="#1a1a1a" stroke="#1a1a1a" stroke-width="0.15" transform="translate(297.80,383.4) rotate(-90)">CB-103</text>
<text x="0" y="0" font-size="6.2" fill="#1a1a1a" stroke="#1a1a1a" stroke-width="0.15" transform="translate(311.60,383.4) rotate(-90)">PD-0332991</text>
<text x="0" y="0" font-size="6.2" fill="#1a1a1a" stroke="#1a1a1a" stroke-width="0.15" transform="translate(326.00,383.4) rotate(-90)">GSI</text>
<text x="0" y="0" font-size="6.2" fill="#1a1a1a" stroke="#1a1a1a" stroke-width="0.15" transform="translate(340.50,383.4) rotate(-90)">CB-103 + PD-0332991</text>
<text x="0" y="0" font-size="6.2" fill="#1a1a1a" stroke="#1a1a1a" stroke-width="0.15" transform="translate(354.50,383.4) rotate(-90)">GSI + PD-0332991</text>
<text x="0" y="0" font-size="6.3" fill="#1a1a1a" stroke="#1a1a1a" stroke-width="0.15" transform="translate(432.70,383.9) rotate(-90)">DMSO</text>
<text x="0" y="0" font-size="6.3" fill="#1a1a1a" stroke="#1a1a1a" stroke-width="0.15" transform="translate(446.80,383.9) rotate(-90)">CB-103</text>
<text x="0" y="0" font-size="6.3" fill="#1a1a1a" stroke="#1a1a1a" stroke-width="0.15" transform="translate(460.60,383.9) rotate(-90)">GSI</text>
<text x="0" y="0" font-size="6.3" fill="#1a1a1a" stroke="#1a1a1a" stroke-width="0.15" transform="translate(475.50,383.9) rotate(-90)">PD-0332991</text>
<text x="0" y="0" font-size="6.3" fill="#1a1a1a" stroke="#1a1a1a" stroke-width="0.15" transform="translate(490.00,383.9) rotate(-90)">CB-103 + PD-0332991</text>
<text x="0" y="0" font-size="6.3" fill="#1a1a1a" stroke="#1a1a1a" stroke-width="0.15" transform="translate(505.20,383.9) rotate(-90)">GSI + PD-0332991</text>
<text x="267.60" y="396.30" font-size="6.1" text-anchor="end" fill="#111" font-weight="normal" font-style="normal" stroke="#111" stroke-width="0.12" >NICD</text>
<text x="417.60" y="396.30" font-size="6.1" text-anchor="end" fill="#111" font-weight="normal" font-style="normal" stroke="#111" stroke-width="0.12" >NICD</text>
<text x="267.60" y="419.10" font-size="6.1" text-anchor="end" fill="#111" font-weight="normal" font-style="normal" stroke="#111" stroke-width="0.12" >C-MYC</text>
<text x="417.60" y="419.10" font-size="6.1" text-anchor="end" fill="#111" font-weight="normal" font-style="normal" stroke="#111" stroke-width="0.12" >C-MYC</text>
<text x="267.60" y="439.30" font-size="6.1" text-anchor="end" fill="#111" font-weight="normal" font-style="normal" stroke="#111" stroke-width="0.12" >pRB - S807/811</text>
<text x="417.60" y="439.30" font-size="6.1" text-anchor="end" fill="#111" font-weight="normal" font-style="normal" stroke="#111" stroke-width="0.12" >pRB - S807/811</text>
<text x="267.60" y="459.55" font-size="6.1" text-anchor="end" fill="#111" font-weight="normal" font-style="normal" stroke="#111" stroke-width="0.12" >ACTIN</text>
<text x="417.60" y="459.55" font-size="6.1" text-anchor="end" fill="#111" font-weight="normal" font-style="normal" stroke="#111" stroke-width="0.12" >ACTIN</text>
<g><clipPath id="c270_387"><rect x="270.1" y="387.3" width="89.59999999999997" height="15.099999999999966"/></clipPath>
<rect x="270.1" y="387.3" width="89.59999999999997" height="15.099999999999966" fill="#b5b5b5"/>
<g clip-path="url(#c270_387)">
<rect x="270.50" y="392.40" width="16.00" height="3.80" rx="1.52" fill="#000" fill-opacity="0.790" filter="url(#bl)"/>
<rect x="288.80" y="391.95" width="11.20" height="4.50" rx="1.80" fill="#000" fill-opacity="0.845" filter="url(#bl)"/>
<rect x="302.40" y="392.85" width="11.00" height="3.70" rx="1.48" fill="#000" fill-opacity="0.834" filter="url(#bl)"/>
<rect x="330.80" y="393.80" width="10.20" height="3.00" rx="1.20" fill="#000" fill-opacity="0.823" filter="url(#bl)"/>
</g>
<line x1="300.50" y1="387.30" x2="300.50" y2="402.40" stroke="#1a1a1a" stroke-width="1.0" />
<rect x="270.1" y="387.3" width="89.59999999999997" height="15.099999999999966" fill="none" stroke="#2e2e2e" stroke-width="1.15"/></g>
<g><clipPath id="c270_410"><rect x="270.1" y="410.1" width="89.59999999999997" height="15.0"/></clipPath>
<rect x="270.1" y="410.1" width="89.59999999999997" height="15.0" fill="#b5b5b5"/>
<g clip-path="url(#c270_410)">
<rect x="271.00" y="414.00" width="17.00" height="7.00" rx="2.50" fill="#000" fill-opacity="0.696" filter="url(#bl)"/>
<rect x="287.50" y="414.40" width="12.30" height="6.20" rx="2.48" fill="#000" fill-opacity="0.657" filter="url(#bl)"/>
<rect x="302.10" y="416.80" width="11.50" height="3.20" rx="1.28" fill="#000" fill-opacity="0.696" filter="url(#bl)"/>
<rect x="317.30" y="416.60" width="11.20" height="2.80" rx="1.12" fill="#000" fill-opacity="0.558" filter="url(#bl)"/>
<rect x="330.80" y="415.20" width="11.70" height="3.60" rx="1.44" fill="#000" fill-opacity="0.779" filter="url(#bl)"/>
<rect x="344.50" y="415.90" width="12.30" height="2.80" rx="1.12" fill="#000" fill-opacity="0.475" filter="url(#bl)"/>
</g>
<line x1="300.50" y1="410.10" x2="300.50" y2="425.10" stroke="#1a1a1a" stroke-width="1.0" />
<rect x="270.1" y="410.1" width="89.59999999999997" height="15.0" fill="none" stroke="#2e2e2e" stroke-width="1.15"/></g>
<g><clipPath id="c270_430"><rect x="270.1" y="430.4" width="89.59999999999997" height="15.0"/></clipPath>
<rect x="270.1" y="430.4" width="89.59999999999997" height="15.0" fill="#b5b5b5"/>
<g clip-path="url(#c270_430)">
<rect x="270.80" y="430.90" width="14.70" height="10.80" rx="2.50" fill="#000" fill-opacity="0.735" filter="url(#bl)"/>
<rect x="286.60" y="431.00" width="12.00" height="8.40" rx="2.50" fill="#000" fill-opacity="0.757" filter="url(#bl)"/>
<rect x="301.80" y="435.70" width="11.00" height="3.20" rx="1.28" fill="#000" fill-opacity="0.530" filter="url(#bl)"/>
<rect x="316.00" y="430.40" width="12.60" height="8.40" rx="2.50" fill="#000" fill-opacity="0.801" filter="url(#bl)"/>
<rect x="331.30" y="435.00" width="12.50" height="3.00" rx="1.20" fill="#000" fill-opacity="0.530" filter="url(#bl)"/>
<rect x="347.00" y="435.20" width="10.50" height="2.80" rx="1.12" fill="#000" fill-opacity="0.448" filter="url(#bl)"/>
</g>
<line x1="300.50" y1="430.40" x2="300.50" y2="445.40" stroke="#1a1a1a" stroke-width="1.0" />
<rect x="270.1" y="430.4" width="89.59999999999997" height="15.0" fill="none" stroke="#2e2e2e" stroke-width="1.15"/></g>
<g><clipPath id="c270_450"><rect x="270.1" y="450.4" width="89.59999999999997" height="15.100000000000023"/></clipPath>
<rect x="270.1" y="450.4" width="89.59999999999997" height="15.100000000000023" fill="#b5b5b5"/>
<g clip-path="url(#c270_450)">
<rect x="271.50" y="457.80" width="14.50" height="3.00" rx="1.20" fill="#000" fill-opacity="0.309" filter="url(#bl)"/>
<rect x="285.00" y="455.70" width="15.00" height="3.40" rx="1.36" fill="#000" fill-opacity="0.448" filter="url(#bl)"/>
<rect x="301.50" y="457.40" width="13.50" height="3.20" rx="1.28" fill="#000" fill-opacity="0.459" filter="url(#bl)"/>
<rect x="314.00" y="456.90" width="16.00" height="3.00" rx="1.20" fill="#000" fill-opacity="0.348" filter="url(#bl)"/>
<rect x="330.00" y="456.30" width="15.00" height="3.00" rx="1.20" fill="#000" fill-opacity="0.348" filter="url(#bl)"/>
<rect x="345.00" y="455.80" width="13.50" height="3.00" rx="1.20" fill="#000" fill-opacity="0.293" filter="url(#bl)"/>
</g>
<line x1="300.50" y1="450.40" x2="300.50" y2="465.50" stroke="#1a1a1a" stroke-width="1.0" />
<rect x="270.1" y="450.4" width="89.59999999999997" height="15.100000000000023" fill="none" stroke="#2e2e2e" stroke-width="1.15"/></g>
<g><clipPath id="c420_387"><rect x="420.2" y="387.3" width="89.5" height="15.099999999999966"/></clipPath>
<rect x="420.2" y="387.3" width="89.5" height="15.099999999999966" fill="#b5b5b5"/>
<g clip-path="url(#c420_387)">
<rect x="422.80" y="392.00" width="15.00" height="8.60" rx="2.50" fill="#000" fill-opacity="0.878" filter="url(#bl)"/>
<rect x="437.60" y="393.60" width="11.60" height="5.60" rx="2.24" fill="#000" fill-opacity="0.834" filter="url(#bl)"/>
<rect x="451.70" y="395.55" width="8.60" height="2.50" rx="1.00" fill="#000" fill-opacity="0.392" filter="url(#bl)"/>
<rect x="466.00" y="395.35" width="9.50" height="2.70" rx="1.08" fill="#000" fill-opacity="0.696" filter="url(#bl)"/>
<rect x="479.00" y="396.00" width="8.00" height="2.40" rx="0.96" fill="#000" fill-opacity="0.365" filter="url(#bl)"/>
<rect x="492.00" y="396.50" width="8.00" height="2.00" rx="0.80" fill="#000" fill-opacity="0.116" filter="url(#bl)"/>
</g>
<rect x="420.2" y="387.3" width="89.5" height="15.099999999999966" fill="none" stroke="#2e2e2e" stroke-width="1.15"/></g>
<g><clipPath id="c420_410"><rect x="420.2" y="410.1" width="89.5" height="15.0"/></clipPath>
<rect x="420.2" y="410.1" width="89.5" height="15.0" fill="#b5b5b5"/>
<g clip-path="url(#c420_410)">
<rect x="425.00" y="412.20" width="12.90" height="4.80" rx="1.92" fill="#000" fill-opacity="0.845" filter="url(#bl)"/>
<rect x="425.60" y="419.30" width="11.80" height="2.80" rx="1.12" fill="#000" fill-opacity="0.586" filter="url(#bl)"/>
<rect x="441.60" y="414.00" width="9.10" height="2.20" rx="0.88" fill="#000" fill-opacity="0.171" filter="url(#bl)"/>
<rect x="441.60" y="419.70" width="9.10" height="2.00" rx="0.80" fill="#000" fill-opacity="0.088" filter="url(#bl)"/>
<rect x="454.00" y="412.80" width="11.60" height="2.80" rx="1.12" fill="#000" fill-opacity="0.392" filter="url(#bl)"/>
<rect x="454.00" y="419.20" width="11.60" height="2.40" rx="0.96" fill="#000" fill-opacity="0.199" filter="url(#bl)"/>
<rect x="469.00" y="413.90" width="11.00" height="2.20" rx="0.88" fill="#000" fill-opacity="0.088" filter="url(#bl)"/>
<rect x="469.00" y="419.40" width="11.00" height="2.20" rx="0.88" fill="#000" fill-opacity="0.088" filter="url(#bl)"/>
</g>
<rect x="420.2" y="410.1" width="89.5" height="15.0" fill="none" stroke="#2e2e2e" stroke-width="1.15"/></g>
<g><clipPath id="c420_430"><rect x="420.2" y="430.4" width="89.5" height="15.0"/></clipPath>
<rect x="420.2" y="430.4" width="89.5" height="15.0" fill="#b5b5b5"/>
<g clip-path="url(#c420_430)">
<rect x="424.70" y="433.80" width="13.50" height="5.00" rx="2.00" fill="#000" fill-opacity="0.779" filter="url(#bl)"/>
<rect x="440.60" y="434.30" width="10.10" height="4.40" rx="1.76" fill="#000" fill-opacity="0.724" filter="url(#bl)"/>
<rect x="453.60" y="432.50" width="12.00" height="6.00" rx="2.40" fill="#000" fill-opacity="0.834" filter="url(#bl)"/>
<rect x="475.00" y="435.10" width="2.20" height="1.80" rx="0.72" fill="#000" fill-opacity="0.558" filter="url(#bl)"/>
<rect x="490.00" y="435.80" width="10.00" height="2.00" rx="0.80" fill="#000" fill-opacity="0.050" filter="url(#bl)"/>
</g>
<rect x="420.2" y="430.4" width="89.5" height="15.0" fill="none" stroke="#2e2e2e" stroke-width="1.15"/></g>
<g><clipPath id="c420_450"><rect x="420.2" y="450.4" width="89.5" height="15.100000000000023"/></clipPath>
<rect x="420.2" y="450.4" width="89.5" height="15.100000000000023" fill="#b5b5b5"/>
<g clip-path="url(#c420_450)">
<path d="M423.50,456.70 C425.70,458.83 435.80,458.83 438.00,456.70" fill="none" stroke="#000" stroke-opacity="0.696" stroke-width="3.0" filter="url(#bl2)"/><path d="M438.00,456.80 C440.20,458.80 449.30,458.80 451.50,456.80" fill="none" stroke="#000" stroke-opacity="0.669" stroke-width="2.9" filter="url(#bl2)"/><path d="M451.50,456.80 C453.70,459.07 462.80,459.07 465.00,456.80" fill="none" stroke="#000" stroke-opacity="0.669" stroke-width="2.9" filter="url(#bl2)"/><path d="M465.00,457.20 C467.20,459.47 476.80,459.47 479.00,457.20" fill="none" stroke="#000" stroke-opacity="0.696" stroke-width="3.0" filter="url(#bl2)"/><path d="M479.00,458.00 C481.20,458.80 488.80,458.80 491.00,458.00" fill="none" stroke="#000" stroke-opacity="0.475" stroke-width="2.2" filter="url(#bl2)"/><path d="M491.00,457.30 C493.20,459.83 504.30,459.83 506.50,457.30" fill="none" stroke="#000" stroke-opacity="0.751" stroke-width="3.3" filter="url(#bl2)"/>
</g>
<rect x="420.2" y="450.4" width="89.5" height="15.100000000000023" fill="none" stroke="#2e2e2e" stroke-width="1.15"/></g>
<rect x="0.5" y="0.5" width="519" height="471" fill="none" stroke="#505050" stroke-width="1"/>
<line x1="0" y1="471.25" x2="520" y2="471.25" stroke="#404040" stroke-width="1.5"/>
</svg>
</body></html>
